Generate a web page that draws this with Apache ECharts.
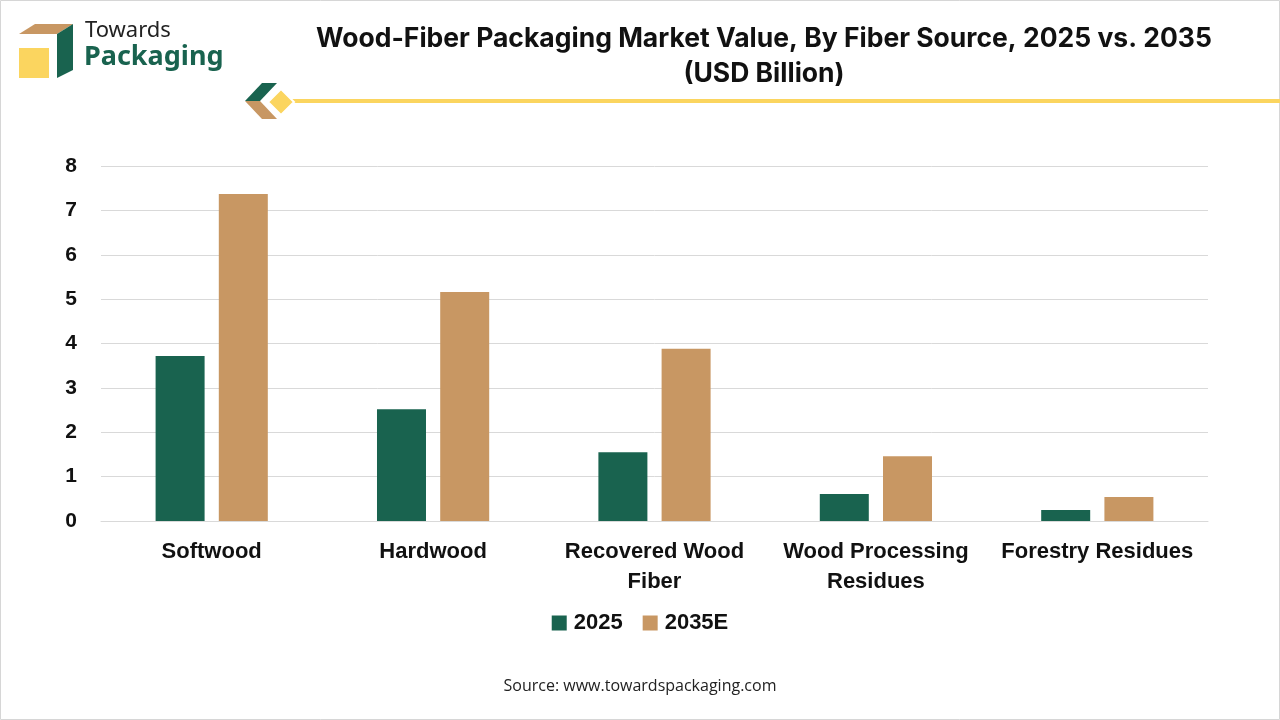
<!DOCTYPE html>
<html>
<head>
<meta charset="utf-8">
<script src="https://cdn.jsdelivr.net/npm/echarts@6/dist/echarts.min.js"></script>
<style>
  html, body { margin: 0; padding: 0; background: #fff; }
  #chart { width: 1280px; height: 720px; }
</style>
</head>
<body>
<div id="chart"></div>
<script>
(function (window) {
    "use strict";

    // 数据
    var categories = ['Softwood', 'Hardwood', 'Recovered Wood\nFiber', 'Wood Processing\nResidues', 'Forestry Residues'];
    var values2025 = [3.72, 2.52, 1.55, 0.61, 0.25];
    var values2035 = [7.37, 5.16, 3.88, 1.46, 0.54];
    var yTicks = [0, 1, 2, 3, 4, 5, 6, 7, 8];

    var GREEN = '#19634f';
    var TAN = '#c89763';
    var YELLOW = '#fbd55f';

    var myChart = echarts.init(document.getElementById('chart'));

    var option = {
        backgroundColor: '#fff',
        animation: false,
        title: {
            text: 'Wood-Fiber Packaging Market Value, By Fiber Source, 2025 vs. 2035\n(USD Billion)',
            left: 759,
            top: 17,
            textAlign: 'center',
            textStyle: {
                fontFamily: 'Inter',
                fontWeight: 'bold',
                fontSize: 26.5,
                lineHeight: 35,
                color: '#111'
            }
        },
        legend: {
            top: 607,
            left: 'center',
            itemWidth: 15,
            itemHeight: 15,
            itemGap: 20,
            icon: 'rect',
            textStyle: {
                fontFamily: 'Liberation Sans',
                fontWeight: 'bold',
                fontSize: 22,
                padding: [0, 0, 0, 2],
                color: '#111'
            },
            data: ['2025', '2035E']
        },
        grid: {
            left: 101,
            right: 72,
            top: 166,
            bottom: 199
        },
        xAxis: {
            type: 'category',
            data: categories,
            axisTick: { show: false },
            axisLine: { lineStyle: { color: '#d9d9d9' } },
            axisLabel: {
                interval: 0,
                margin: 16,
                fontFamily: 'Liberation Sans',
                fontWeight: 'bold',
                fontSize: 22,
                lineHeight: 30,
                color: '#111'
            }
        },
        yAxis: {
            type: 'value',
            min: yTicks[0],
            max: yTicks[yTicks.length - 1],
            interval: 1,
            axisLine: { show: false },
            axisTick: { show: false },
            splitLine: { lineStyle: { color: '#d9d9d9', width: 1 } },
            axisLabel: {
                margin: 24,
                fontFamily: 'Liberation Sans',
                fontWeight: 'bold',
                fontSize: 21,
                color: '#111'
            }
        },
        series: [
            {
                name: '2025',
                type: 'bar',
                data: values2025,
                barWidth: 49,
                barGap: '29%',
                itemStyle: { color: GREEN }
            },
            {
                name: '2035E',
                type: 'bar',
                data: values2035,
                barWidth: 49,
                itemStyle: { color: TAN }
            }
        ],
        graphic: [
            // 外边框
            {
                type: 'rect',
                shape: { x: 0.5, y: 0.5, width: 1279, height: 719 },
                style: { fill: 'none', stroke: '#d6d6d6', lineWidth: 1 },
                silent: true
            },
            // logo
            {
                type: 'polygon',
                shape: { points: [[19, 34], [35, 24], [73, 24], [57, 34]] },
                style: { fill: TAN }
            },
            {
                type: 'polygon',
                shape: { points: [[57, 34], [73, 24], [73, 70], [57, 78]] },
                style: { fill: GREEN }
            },
            {
                type: 'rect',
                shape: { x: 19, y: 48, width: 30, height: 30 },
                style: { fill: YELLOW }
            },
            {
                type: 'text',
                left: 85,
                top: 20,
                style: {
                    text: 'Towards',
                    font: '22px "Noto Sans"',
                    fill: '#222'
                }
            },
            {
                type: 'text',
                left: 84,
                top: 44,
                style: {
                    text: 'Packaging',
                    font: 'bold 27px "Noto Sans"',
                    fill: GREEN
                }
            },
            // 标题下的装饰线
            {
                type: 'rect',
                shape: { x: 285, y: 99, width: 995, height: 4 },
                style: { fill: YELLOW }
            },
            {
                type: 'polygon',
                shape: { points: [[262, 83], [277, 83], [260, 101], [245, 101]] },
                style: { fill: GREEN }
            },
            {
                type: 'polygon',
                shape: { points: [[245, 101], [260, 101], [277, 119], [262, 119]] },
                style: { fill: TAN }
            },
            {
                type: 'polygon',
                shape: { points: [[281, 89], [294, 102], [281, 115], [268, 102]] },
                style: { fill: YELLOW, stroke: '#fff', lineWidth: 2 }
            },
            // 来源
            {
                type: 'text',
                left: 'center',
                top: 678,
                style: {
                    text: 'Source: www.towardspackaging.com',
                    font: '16px "Open Sans"',
                    fill: '#222'
                }
            }
        ]
    };

    myChart.setOption(option);

})(window);
</script>
</body>
</html>
